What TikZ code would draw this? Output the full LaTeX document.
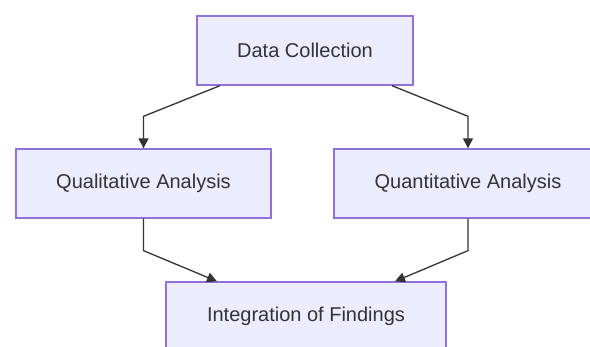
\documentclass[tikz,border=0pt]{standalone}
\usepackage{fontspec}
\setmainfont{Liberation Sans}
\usetikzlibrary{arrows.meta}
\definecolor{boxfill}{HTML}{ECECFF}
\definecolor{boxline}{HTML}{9370DB}
\definecolor{inkgray}{HTML}{333333}
\tikzset{
	stagebox/.style={draw=boxline, fill=boxfill, line width=1.3pt, minimum height=69pt, inner sep=0pt, text=inkgray, font=\fontsize{20}{24}\selectfont},
	link/.style={draw=inkgray, line width=1.3pt, -{Triangle[width=10pt,length=10pt]}}
}
\begin{document}
\begin{tikzpicture}[x=1pt, y=-1pt]
		\useasboundingbox (0,0) rectangle (590,347);
		%Stages
		\node[stagebox, minimum width=216pt] (collect) at (305,50.5) {Data Collection};
		\node[stagebox, minimum width=255pt] (qual) at (143.5,183.5) {Qualitative Analysis};
		\node[stagebox, minimum width=268pt] (quant) at (468,183.5) {Quantitative Analysis};
		\node[stagebox, minimum width=280pt] (integ) at (306,316.5) {Integration of Findings};
		%Split
		\draw[link] ([xshift=-85pt]collect.south) -- ([yshift=32pt]qual.north) -- (qual.north);
		\draw[link] ([xshift=87pt]collect.south) -- ([yshift=32pt]quant.north) -- (quant.north);
		%Merge
		\draw[link] (qual.south) -- ([yshift=-32pt]qual.south) -- ([xshift=-89pt]integ.north);
		\draw[link] (quant.south) -- ([yshift=-32pt]quant.south) -- ([xshift=89pt]integ.north);
\end{tikzpicture}
\end{document}
